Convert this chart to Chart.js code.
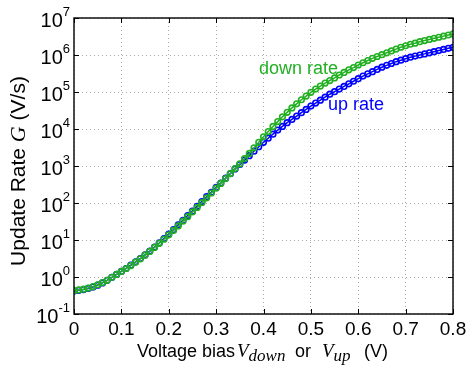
<!DOCTYPE html>
<html>
<head>
<meta charset="utf-8">
<script src="https://cdn.jsdelivr.net/npm/chart.js@4.4.1/dist/chart.umd.min.js"></script>
<style>
  html, body { margin: 0; padding: 0; background: #fff; }
</style>
</head>
<body>
<canvas id="rateChart" width="469" height="366"></canvas>
<script>
// bias voltage (V)
const voltage = [
  0.00, 0.01, 0.02, 0.03, 0.04, 0.05, 0.06, 0.07, 0.08, 0.09,
  0.10, 0.11, 0.12, 0.13, 0.14, 0.15, 0.16, 0.17, 0.18, 0.19,
  0.20, 0.21, 0.22, 0.23, 0.24, 0.25, 0.26, 0.27, 0.28, 0.29,
  0.30, 0.31, 0.32, 0.33, 0.34, 0.35, 0.36, 0.37, 0.38, 0.39,
  0.40, 0.41, 0.42, 0.43, 0.44, 0.45, 0.46, 0.47, 0.48, 0.49,
  0.50, 0.51, 0.52, 0.53, 0.54, 0.55, 0.56, 0.57, 0.58, 0.59,
  0.60, 0.61, 0.62, 0.63, 0.64, 0.65, 0.66, 0.67, 0.68, 0.69,
  0.70, 0.71, 0.72, 0.73, 0.74, 0.75, 0.76, 0.77, 0.78, 0.79,
  0.80
];

// update rate, as log10 of G (V/s)
const upRateExp = [
  -0.38, -0.36, -0.34, -0.31, -0.27, -0.22, -0.16, -0.09, -0.01, 0.07,
  0.15, 0.23, 0.32, 0.41, 0.50, 0.60, 0.70, 0.81, 0.92, 1.04,
  1.16, 1.28, 1.41, 1.53, 1.66, 1.78, 1.91, 2.04, 2.17, 2.29,
  2.42, 2.54, 2.67, 2.79, 2.92, 3.04, 3.16, 3.28, 3.40, 3.52,
  3.64, 3.75, 3.86, 3.97, 4.07, 4.17, 4.26, 4.35, 4.44, 4.53,
  4.62, 4.70, 4.78, 4.86, 4.94, 5.01, 5.08, 5.15, 5.22, 5.29,
  5.36, 5.43, 5.49, 5.55, 5.61, 5.67, 5.72, 5.77, 5.82, 5.86,
  5.90, 5.94, 5.97, 6.00, 6.03, 6.06, 6.09, 6.12, 6.15, 6.18,
  6.21
];

const downRateExp = [
  -0.37, -0.35, -0.33, -0.30, -0.26, -0.21, -0.15, -0.09, -0.01, 0.07,
  0.15, 0.23, 0.31, 0.40, 0.49, 0.59, 0.69, 0.80, 0.91, 1.02,
  1.14, 1.26, 1.38, 1.51, 1.63, 1.76, 1.88, 2.01, 2.14, 2.27,
  2.40, 2.53, 2.66, 2.80, 2.93, 3.06, 3.20, 3.34, 3.49, 3.64,
  3.79, 3.93, 4.07, 4.20, 4.33, 4.45, 4.57, 4.68, 4.79, 4.89,
  4.99, 5.08, 5.16, 5.24, 5.31, 5.38, 5.46, 5.53, 5.60, 5.66,
  5.73, 5.79, 5.85, 5.91, 5.96, 6.01, 6.06, 6.11, 6.16, 6.21,
  6.25, 6.29, 6.32, 6.36, 6.39, 6.42, 6.45, 6.48, 6.51, 6.54,
  6.57
];

const xTicks = [0, 0.1, 0.2, 0.3, 0.4, 0.5, 0.6, 0.7, 0.8];
const xTickLabels = ["0", "0.1", "0.2", "0.3", "0.4", "0.5", "0.6", "0.7", "0.8"];
const yTickExps = [-1, 0, 1, 2, 3, 4, 5, 6, 7];

const BLUE = "#0000ff";
const GREEN = "#22b022";
const SANS = '"Liberation Sans", Arial, sans-serif';
const SERIF = '"Liberation Serif", "Times New Roman", serif';

function toPoints(exps) {
  return exps.map((e, i) => ({ x: voltage[i], y: Math.pow(10, e) }));
}

// draws a run of text pieces with different fonts one after the other
function drawRich(ctx, pieces, x, y) {
  let cx = x;
  pieces.forEach(p => {
    ctx.font = p.font;
    const px = p.at !== undefined ? p.at : cx;
    ctx.fillText(p.text, px, y + (p.dy || 0));
    cx = px + ctx.measureText(p.text).width;
  });
}

function richWidth(ctx, pieces) {
  let w = 0;
  pieces.forEach(p => {
    ctx.font = p.font;
    w += ctx.measureText(p.text).width;
  });
  return w;
}

const axesPlugin = {
  id: "matlabAxes",
  afterDraw(chart) {
    const ctx = chart.ctx;
    const area = chart.chartArea;
    const xs = chart.scales.x;
    const ys = chart.scales.y;

    ctx.save();
    // box
    ctx.strokeStyle = "#000";
    ctx.lineWidth = 1.4;
    ctx.strokeRect(area.left, area.top, area.right - area.left, area.bottom - area.top);

    // inward ticks
    ctx.lineWidth = 1;
    ctx.beginPath();
    xTicks.forEach(v => {
      const px = Math.round(xs.getPixelForValue(v)) + 0.5;
      ctx.moveTo(px, area.bottom); ctx.lineTo(px, area.bottom - 5);
      ctx.moveTo(px, area.top); ctx.lineTo(px, area.top + 5);
    });
    yTickExps.forEach(e => {
      const py = Math.round(ys.getPixelForValue(Math.pow(10, e))) + 0.5;
      ctx.moveTo(area.left, py); ctx.lineTo(area.left + 5, py);
      ctx.moveTo(area.right, py); ctx.lineTo(area.right - 5, py);
    });
    ctx.stroke();

    ctx.fillStyle = "#000";
    // x tick labels
    ctx.font = "19px " + SANS;
    ctx.textAlign = "center";
    ctx.textBaseline = "alphabetic";
    xTicks.forEach((v, i) => {
      ctx.fillText(xTickLabels[i], xs.getPixelForValue(v), area.bottom + 21);
    });

    // y tick labels: 10 with raised exponent
    ctx.textAlign = "left";
    yTickExps.forEach(e => {
      const py = ys.getPixelForValue(Math.pow(10, e));
      const pieces = [
        { text: "10", font: "20px " + SANS },
        { text: String(e), font: "13px " + SANS, dy: -11 }
      ];
      const w = richWidth(ctx, pieces);
      drawRich(ctx, pieces, 70 - w, py + 9);
    });

    // x axis title
    const sub = "italic 17px " + SERIF;
    drawRich(ctx, [
      { text: "Voltage bias", font: "18px " + SANS, at: 137 },
      { text: "V", font: "italic 19px " + SERIF, at: 237 },
      { text: "down", font: sub, dy: 4 },
      { text: "or", font: "18px " + SANS, at: 295 },
      { text: "V", font: "italic 19px " + SERIF, at: 322 },
      { text: "up", font: sub, dy: 4 },
      { text: "(V)", font: "18px " + SANS, at: 364 }
    ], 137, 357);

    // y axis title
    const yTitle = [
      { text: "Update Rate ", font: "21px " + SANS },
      { text: "G", font: "italic 22px " + SERIF },
      { text: " (V/s)", font: "21px " + SANS }
    ];
    ctx.translate(25, 171);
    ctx.rotate(-Math.PI / 2);
    drawRich(ctx, yTitle, -richWidth(ctx, yTitle) / 2, 0);
    ctx.restore();

    // series labels
    ctx.save();
    ctx.font = "18px " + SANS;
    ctx.textAlign = "left";
    ctx.fillStyle = GREEN;
    ctx.fillText("down rate", 259, 74);
    ctx.fillStyle = BLUE;
    ctx.fillText("up rate", 328, 110);
    ctx.restore();
  }
};

const ctx = document.getElementById("rateChart").getContext("2d");
new Chart(ctx, {
  type: "line",
  data: {
    datasets: [
      {
        label: "down rate",
        data: toPoints(downRateExp),
        borderColor: GREEN,
        borderWidth: 1.5,
        pointRadius: 2.8,
        pointBorderWidth: 1.6,
        pointBorderColor: GREEN,
        pointBackgroundColor: "rgba(0,0,0,0)",
        fill: false,
        order: 0
      },
      {
        label: "up rate",
        data: toPoints(upRateExp),
        borderColor: BLUE,
        borderWidth: 1.5,
        pointRadius: 2.8,
        pointBorderWidth: 1.6,
        pointBorderColor: BLUE,
        pointBackgroundColor: "rgba(0,0,0,0)",
        fill: false,
        order: 1
      }
    ]
  },
  options: {
    responsive: false,
    animation: false,
    layout: { padding: { left: 74, top: 18, right: 16, bottom: 52 } },
    plugins: {
      legend: { display: false },
      tooltip: { enabled: false }
    },
    scales: {
      x: {
        type: "linear",
        min: 0,
        max: 0.8,
        afterBuildTicks: scale => { scale.ticks = xTicks.map(v => ({ value: v })); },
        ticks: { display: false },
        grid: { color: "#aaaaaa", lineWidth: 1, drawTicks: false },
        border: { display: false, dash: [1, 3] }
      },
      y: {
        type: "logarithmic",
        min: 0.1,
        max: 1e7,
        afterBuildTicks: scale => { scale.ticks = yTickExps.map(e => ({ value: Math.pow(10, e) })); },
        ticks: { display: false },
        grid: { color: "#aaaaaa", lineWidth: 1, drawTicks: false },
        border: { display: false, dash: [1, 3] }
      }
    }
  },
  plugins: [axesPlugin]
});
</script>
</body>
</html>
